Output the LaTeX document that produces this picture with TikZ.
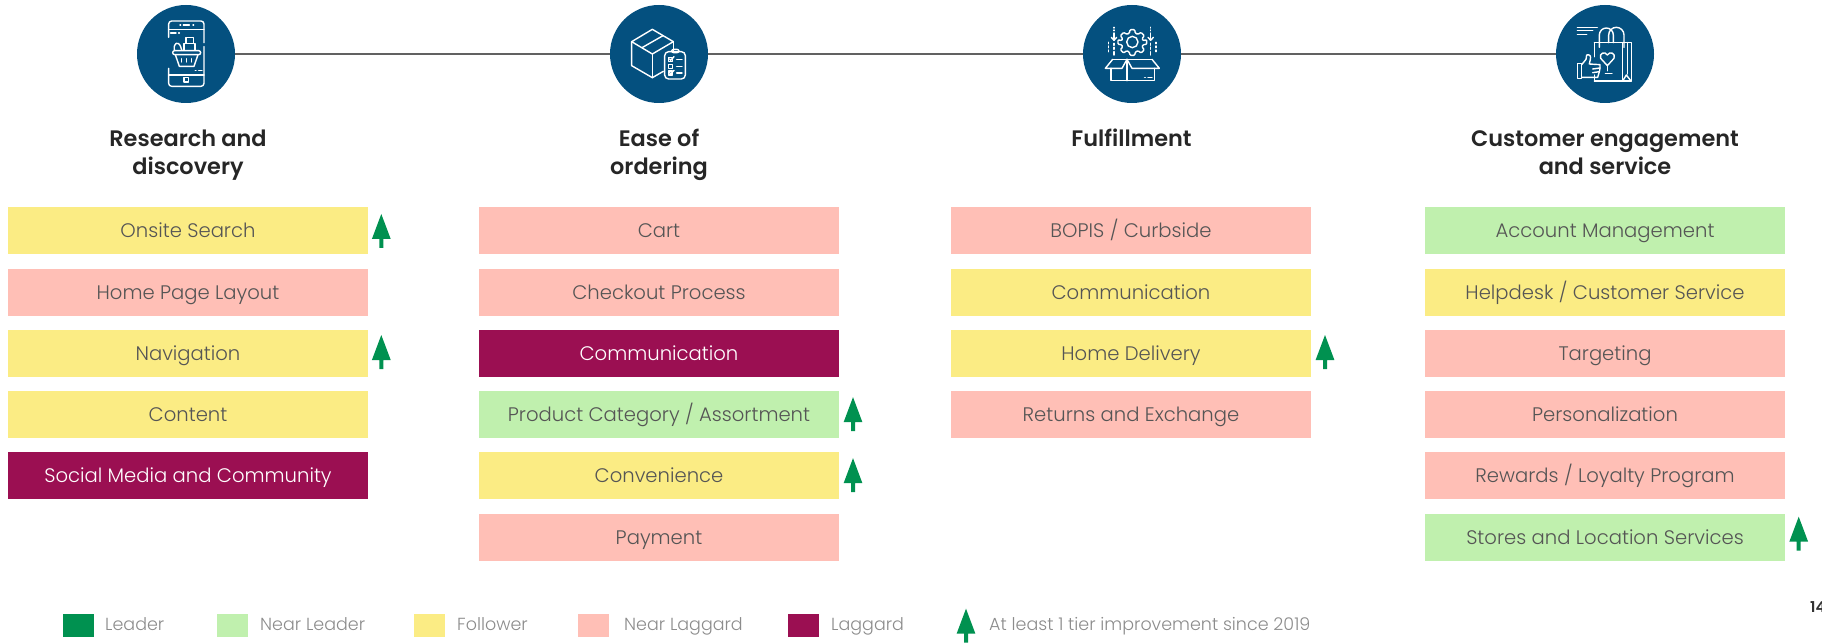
\documentclass[tikz,border=0pt]{standalone}
\usepackage{fontspec}
\setmainfont{Poppins}[UprightFont=* Light,BoldFont=* SemiBold]
\definecolor{navy}{HTML}{04507F}
\definecolor{leaderc}{HTML}{009150}
\definecolor{nearleaderc}{HTML}{C0F0AE}
\definecolor{followerc}{HTML}{FBEC84}
\definecolor{nearlagc}{HTML}{FFBFB6}
\definecolor{lagc}{HTML}{9B0F52}
\definecolor{ink}{HTML}{555555}
\definecolor{legendink}{HTML}{8C8C8C}
\tikzset{
 hub/.style={circle,fill=navy,minimum size=98pt,inner sep=0pt},
 tier/.style={minimum width=360pt,minimum height=47pt,inner sep=0pt,text=ink,font=\fontsize{19.6}{24}\selectfont,text height=16pt,text depth=2pt},
 tnearlead/.style={tier,fill=nearleaderc},
 tfollow/.style={tier,fill=followerc},
 tnearlag/.style={tier,fill=nearlagc},
 tlag/.style={tier,fill=lagc,text=white},
 head/.style={align=center,font=\fontsize{22.4}{28}\selectfont\bfseries,text=black!85},
 swatch/.style={minimum width=31pt,minimum height=23pt,inner sep=0pt,anchor=north west},
 legendtext/.style={anchor=west,inner sep=0pt,text=legendink,font=\fontsize{17.5}{20}\selectfont,text height=13pt,text depth=2pt},
 icon/.style={draw=white,line width=1.4pt,line join=round,line cap=round,fill=none},
 treeup/.pic={\fill[leaderc] (0,2.7) -- (9.4,27.7) -- (2,27.7) -- (2,36.7) -- (-2,36.7) -- (-2,27.7) -- (-9.4,27.7) -- cycle;}
}
\begin{document}
\begin{tikzpicture}[x=1pt,y=-1pt]
\useasboundingbox (0,0) rectangle (1822,644);
% hubs and connectors
\node[hub] (h1) at (186,54) {};
\node[hub] (h2) at (659,54) {};
\node[hub] (h3) at (1132,54) {};
\node[hub] (h4) at (1605,54) {};
\draw[line width=2pt,draw=black!62] (h1) -- (h2);
\draw[line width=2pt,draw=black!62] (h2) -- (h3);
\draw[line width=2pt,draw=black!62] (h3) -- (h4);
% phone icon
\begin{scope}[shift={(130,0)},xscale=1/3,yscale=1/3]
\draw[icon,rounded corners=3pt] (116,112) -- (116,63) -- (222,63) -- (222,128);
\draw[icon,rounded corners=3pt] (222,140) -- (222,259) -- (116,259) -- (116,205);
\draw[icon] (116,88) -- (222,88);
\draw[icon] (150,75) -- (152,75) (160,75) -- (178,75) (189,75) -- (191,75);
\draw[icon] (122,99) -- (138,99) (146,99) -- (148,99);
\draw[icon] (116,225) -- (222,225);
\draw[icon] (196,211) -- (198,211) (206,211) -- (216,211);
\draw[icon] (162,232) rectangle (176,246);
\draw[icon,rounded corners=2pt] (128,152) rectangle (212,164);
\draw[icon] (136,164) -- (148,199) -- (192,199) -- (204,164);
\draw[icon] (155,176) -- (155,186) (170,176) -- (170,186) (185,176) -- (185,186);
\draw[icon] (133,150) .. controls (130,128) and (145,122) .. (152,140) -- (155,150);
\draw[icon] (162,150) -- (162,130) -- (195,130) -- (195,150);
\draw[icon] (168,130) -- (168,113) -- (190,113) -- (190,130);
\end{scope}
% box and checklist icon
\begin{scope}[shift={(604,0)},xscale=1/3,yscale=1/3]
\draw[icon] (83,125) -- (145,88) -- (208,125) -- (145,162) -- cycle;
\draw[icon] (83,125) -- (83,197) -- (145,233) -- (178,214);
\draw[icon] (145,162) -- (145,233);
\draw[icon] (208,125) -- (208,153);
\draw[icon] (114,143) -- (177,107);
\draw[icon,rounded corners=4pt] (182,155) rectangle (244,237);
\draw[icon,rounded corners=2pt] (203,148) rectangle (225,158);
\draw[icon] (193,172) rectangle (205,184) (218,178) -- (234,178);
\draw[icon] (193,193) rectangle (205,205) (218,199) -- (234,199);
\draw[icon] (193,213) rectangle (205,225) (218,219) -- (234,219);
\draw[icon] (197,177) -- (200,181) -- (210,170);
\draw[icon] (197,218) -- (200,222) -- (210,211);
\end{scope}
% gear and open box icon
\begin{scope}[shift={(1077,0)},xscale=1/3,yscale=1/3]
\draw[icon] (166,126) circle[radius=17];
\draw[icon,rounded corners=1pt] (159,89) -- (173,89) -- (175,100) -- (183,103) -- (192,97) -- (202,107) -- (195,116) -- (198,122) -- (209,119) -- (209,133) -- (198,134) -- (195,141) -- (202,149) -- (192,159) -- (183,152) -- (175,156) -- (173,166) -- (159,166) -- (157,156) -- (149,152) -- (140,159) -- (130,149) -- (137,141) -- (134,134) -- (123,133) -- (123,119) -- (134,122) -- (137,116) -- (130,107) -- (140,97) -- (149,103) -- (157,100) -- cycle;
\foreach \ax in {111,221}{
 \draw[icon] (\ax,82) -- (\ax,84) (\ax,90) -- (\ax,92) (\ax,99) -- (\ax,120);
 \draw[icon] (\ax-8,112) -- (\ax,121) -- (\ax+8,112);
 \draw[icon] (\ax,130) -- (\ax,136) (\ax,142) -- (\ax,148) (\ax,155) -- (\ax,165);
}
\foreach \ax in {95,237}{
 \draw[icon] (\ax,127) -- (\ax,131) (\ax,138) -- (\ax,143) (\ax,150) -- (\ax,155);
}
\draw[icon] (107,178) -- (225,178);
\draw[icon] (107,178) -- (85,205) -- (135,205) -- (150,178) -- (165,205) -- (247,205) -- (225,178);
\draw[icon] (102,205) -- (102,242) -- (232,242) -- (232,205);
\draw[icon] (150,178) -- (150,242);
\draw[icon] (203,232) -- (205,232) (213,232) -- (225,232);
\end{scope}
% bag and thumb icon
\begin{scope}[shift={(1550,0)},xscale=1/3,yscale=1/3]
\draw[icon] (82,82) -- (142,82) (82,92) -- (128,92) (82,103) -- (110,103);
\draw[icon] (133,128) -- (245,128) -- (245,243) -- (133,243);
\draw[icon] (133,128) -- (133,170) (133,225) -- (133,243);
\draw[icon] (218,128) -- (218,243) (232,128) -- (232,222);
\draw[icon] (218,243) -- (229,225) -- (243,243);
\draw[icon] (148,142) -- (148,105) arc[start angle=180,end angle=360,radius=21] -- (190,128);
\draw[icon] (176,128) -- (176,105) arc[start angle=180,end angle=360,radius=23] -- (222,142);
\draw[icon] (172,197) -- (152,175) .. controls (146,160) and (165,152) .. (172,165) .. controls (179,152) and (198,160) .. (192,175) -- cycle;
\draw[icon] (172,197) -- (172,212) (166,221) -- (186,221);
\draw[icon] (82,190) -- (95,190) -- (95,235) -- (82,235) -- cycle;
\draw[icon] (95,194) -- (108,178) -- (110,165) .. controls (118,162) and (124,168) .. (121,178) -- (118,192) -- (150,194) -- (150,204) -- (148,215) -- (143,232) -- (95,232);
\draw[icon] (128,207) -- (150,204) (128,218) -- (148,215);
\end{scope}
% headings
\node[head] (t1) at (188,155) {Research and\\discovery};
\node[head] (t2) at (659,155) {Ease of\\ordering};
\node[head] (t3) at (1131.5,138) {Fulfillment};
\node[head] (t4) at (1605,152.5) {Customer engagement\\and service};
% column 1
\node[tfollow] (a1) at (188,230.5) {Onsite Search};
\node[tnearlag] (a2) at (188,292.5) {Home Page Layout};
\node[tfollow] (a3) at (188,353.5) {Navigation};
\node[tfollow] (a4) at (188,414) {Content};
\node[tlag] (a5) at (188,475.5) {Social Media and Community};
% column 2
\node[tnearlag] (b1) at (659,230.5) {Cart};
\node[tnearlag] (b2) at (659,292.5) {Checkout Process};
\node[tlag] (b3) at (659,353.5) {Communication};
\node[tnearlead] (b4) at (659,414) {Product Category / Assortment};
\node[tfollow] (b5) at (659,475.5) {Convenience};
\node[tnearlag] (b6) at (659,537.5) {Payment};
% column 3
\node[tnearlag] (c1) at (1131,230.5) {BOPIS / Curbside};
\node[tfollow] (c2) at (1131,292.5) {Communication};
\node[tfollow] (c3) at (1131,353.5) {Home Delivery};
\node[tnearlag] (c4) at (1131,414) {Returns and Exchange};
% column 4
\node[tnearlead] (d1) at (1605,230.5) {Account Management};
\node[tfollow] (d2) at (1605,292.5) {Helpdesk / Customer Service};
\node[tnearlag] (d3) at (1605,353.5) {Targeting};
\node[tnearlag] (d4) at (1605,414) {Personalization};
\node[tnearlag] (d5) at (1605,475.5) {Rewards / Loyalty Program};
\node[tnearlead] (d6) at (1605,537.5) {Stores and Location Services};
% improvement arrows
\pic at (381.3,211.3) {treeup};
\pic at (381.3,332.3) {treeup};
\pic at (853,394.5) {treeup};
\pic at (853,455.5) {treeup};
\pic at (1325,332.3) {treeup};
\pic at (1798.7,514) {treeup};
% legend
\node[swatch,fill=leaderc] (l1) at (63,614) {};
\node[legendtext] (lt1) at (105,625) {Leader};
\node[swatch,fill=nearleaderc] (l2) at (217,614) {};
\node[legendtext] (lt2) at (260,625) {Near Leader};
\node[swatch,fill=followerc] (l3) at (414,614) {};
\node[legendtext] (lt3) at (457,625) {Follower};
\node[swatch,fill=nearlagc] (l4) at (578,614) {};
\node[legendtext] (lt4) at (624,625) {Near Laggard};
\node[swatch,fill=lagc] (l5) at (788,614) {};
\node[legendtext] (lt5) at (831,625) {Laggard};
\pic at (966,606) {treeup};
\node[legendtext] (lt6) at (989,625) {At least 1 tier improvement since 2019};
\node[anchor=west,inner sep=0pt,font=\fontsize{15}{18}\selectfont\bfseries,text=black!80] (pg) at (1810,607) {14};
\end{tikzpicture}
\end{document}
